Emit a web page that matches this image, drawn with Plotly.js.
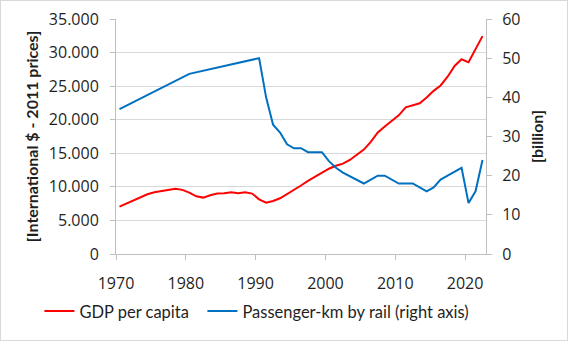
<!DOCTYPE html>
<html>
<head>
<meta charset="utf-8">
<script src="https://cdn.plot.ly/plotly-3.0.1.min.js"></script>
<style>
html,body{margin:0;padding:0;background:#fff;}
#wrap{position:relative;width:568px;height:341px;}
#chart{width:568px;height:341px;}
#frame{position:absolute;left:0;top:0;width:568px;height:341px;box-sizing:border-box;border:1px solid #d9d9d9;pointer-events:none;}
</style>
</head>
<body>
<div id="wrap"><div id="chart"></div><div id="frame"></div></div>
<script>
const years = [];
for (let y = 1970; y <= 2022; y++) years.push(y);

const gdpPerCapita = [
  7050, 7500, 8050, 8500, 8900, 9200, 9400, 9550, 9700, 9550,
  9150, 8600, 8400, 8750, 9000, 9050, 9200, 9050, 9200, 9000,
  8150, 7650, 7900, 8300, 8900, 9500, 10200, 10900, 11500, 12100,
  12700, 13150, 13450, 14000, 14800, 15550, 16700, 18100, 19000, 19800,
  20650, 21850, 22200, 22450, 23300, 24300, 25100, 26400, 28000, 29000,
  28550, 30600, 32450
];

// passenger-km by rail (billion); only 1970, 1980, 1990 known before 1990
const railPkm = [
  37, null, null, null, null, null, null, null, null, null,
  46, null, null, null, null, null, null, null, null, null,
  50, 40, 33, 31, 28, 27, 27, 26, 26, 26,
  23.7, 22, 20.8, 19.8, 18.8, 18, 19, 20, 20, 19,
  18, 18, 18, 17, 16, 17, 19, 20, 21, 22,
  13, 16, 24
];

const tickLabels = ['1970', '1980', '1990', '2000', '2010', '2020'];
const tickPositions = tickLabels.map(t => Number(t) - 0.5);

const textColor = '#1f1f1f';
const font = {family: 'Lato, "Open Sans", sans-serif', size: 16, color: textColor};
const tickFont = {family: '"Open Sans", Lato, sans-serif', size: 16, color: textColor};
const titleFont = {family: 'Lato, "Open Sans", sans-serif', size: 16, weight: 700, color: textColor};

const traces = [
  {x: years, y: gdpPerCapita, type: 'scatter', mode: 'lines', name: 'GDP per capita',
   line: {color: '#ff0000', width: 2}, yaxis: 'y', legendwidth: 118},
  {x: years, y: railPkm, type: 'scatter', mode: 'lines', name: 'Passenger-km by rail (right axis)',
   line: {color: '#0070c0', width: 2}, yaxis: 'y2', connectgaps: true}
];

const layout = {
  width: 568, height: 341,
  margin: {l: 116, r: 82, t: 18.5, b: 82.5},
  paper_bgcolor: '#ffffff', plot_bgcolor: '#ffffff',
  font: font,
  separators: ',.',
  showlegend: true,
  xaxis: {
    range: [1969.5, 2022.5], tickvals: tickPositions, ticktext: tickLabels,
    ticklabelshift: 3.5, ticks: 'outside', ticklen: 5, tickcolor: '#bfbfbf',
    ticklabelstandoff: 10,
    showline: true, linecolor: '#bfbfbf', linewidth: 1, showgrid: false, zeroline: false,
    tickfont: tickFont
  },
  yaxis: {
    range: [0, 35000], dtick: 5000, tickformat: ',d',
    ticks: 'outside', ticklen: 5, tickcolor: '#bfbfbf', ticklabelstandoff: 8,
    showline: true, linecolor: '#bfbfbf', showgrid: true, gridcolor: '#d9d9d9', zeroline: false,
    tickfont: tickFont,
    title: {text: '[International $ - 2011 prices]', font: titleFont, standoff: 6}
  },
  yaxis2: {
    range: [0, 60], dtick: 10, overlaying: 'y', side: 'right',
    ticks: 'outside', ticklen: 5, tickcolor: '#bfbfbf', ticklabelstandoff: 7,
    showline: true, linecolor: '#bfbfbf', showgrid: false, zeroline: false,
    tickfont: tickFont,
    title: {text: '[billion]', font: titleFont, standoff: 12}
  },
  legend: {
    orientation: 'h', x: -0.207, xanchor: 'left', y: -0.244, yanchor: 'middle',
    font: {family: font.family, size: 16.5, color: textColor}, bgcolor: 'rgba(0,0,0,0)', itemwidth: 30
  }
};

Plotly.newPlot('chart', traces, layout, {displayModeBar: false, staticPlot: true});
</script>
</body>
</html>
